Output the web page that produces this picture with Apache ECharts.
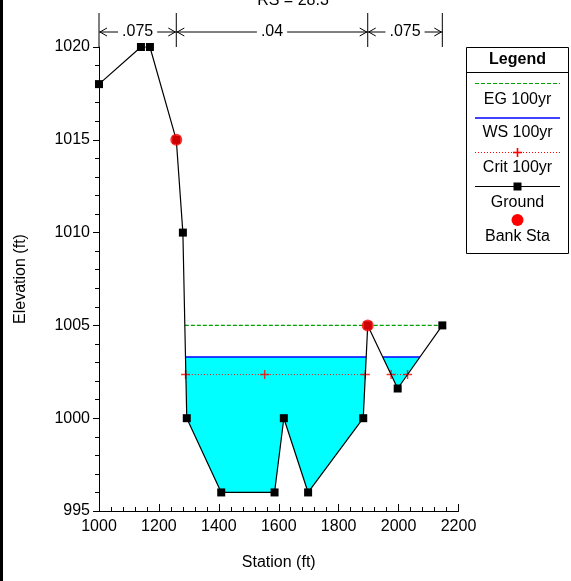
<!DOCTYPE html>
<html>
<head>
<meta charset="utf-8">
<script src="https://cdn.jsdelivr.net/npm/echarts@6/dist/echarts.min.js"></script>
<style>
    html, body { margin: 0; padding: 0; background: #fff; }
    #chart { width: 571px; height: 581px; }
</style>
</head>
<body>
<div id="chart"></div>
<script>
    // 断面地形 (station / elevation)
    var groundSta  = [1000, 1140, 1170, 1258, 1280, 1293, 1408, 1586, 1617, 1698, 1882, 1897, 1997, 2146];
    var groundElev = [1018, 1020, 1020, 1015, 1010, 1000, 996, 996, 1000, 996, 1000, 1005, 1001.6, 1005];
    // 主槽岸点
    var bankSta  = [1258, 1897];
    var bankElev = [1015, 1005];
    // 水面
    var egElev   = 1005.0;
    var wsElev   = 1003.3;
    var critElev = 1002.35;
    var critSta  = [1289, 1553, 1889, 1975, 2030];
    // 糙率分区
    var nSta = [1000, 1258, 1897, 2146];
    var nVal = ['.075', '.04', '.075'];

    var FONT = "'Liberation Sans', Arial, sans-serif";

    // 地形线在某高程以下的部分 -> 多边形
    function wetParts(level) {
        var parts = [], cur = null, n = groundSta.length;
        if (groundElev[0] < level) cur = [[groundSta[0], level], [groundSta[0], groundElev[0]]];
        for (var i = 0; i < n - 1; i++) {
            var x1 = groundSta[i], y1 = groundElev[i], x2 = groundSta[i + 1], y2 = groundElev[i + 1];
            if (y1 >= level && y2 < level) {
                cur = [[x1 + (level - y1) / (y2 - y1) * (x2 - x1), level]];
            }
            if (cur && y2 < level) cur.push([x2, y2]);
            if (y1 < level && y2 >= level) {
                cur.push([x1 + (level - y1) / (y2 - y1) * (x2 - x1), level]);
                parts.push(cur);
                cur = null;
            }
        }
        if (cur) { cur.push([groundSta[n - 1], level]); parts.push(cur); }
        return parts;
    }

    function levelLines(level, name, color, width, dash) {
        return wetParts(level).map(function (p) {
            return {
                name: name, type: 'line', symbol: 'none', z: 3, silent: true,
                color: color,
                lineStyle: { color: color, width: width, type: dash || 'solid' },
                data: [[p[0][0], level], [p[p.length - 1][0], level]]
            };
        });
    }

    var waterPolys = wetParts(wsElev);
    var plusPath = 'path://M0,4.2H10V5.8H0Z M4.2,0H5.8V10H4.2Z';

    var myChart = echarts.init(document.getElementById('chart'));

    var series = [];
    // 水体填充
    series.push({
        type: 'custom', z: 1, silent: true,
        data: waterPolys.map(function (p) { return p[0]; }),
        renderItem: function (params, api) {
            var poly = waterPolys[params.dataIndex];
            return {
                type: 'polygon',
                shape: { points: poly.map(function (p) { return api.coord(p); }) },
                style: { fill: '#00ffff' }
            };
        }
    });
    series = series.concat(levelLines(egElev, 'EG 100yr', '#00a000', 1.3, [4, 2]));
    series = series.concat(levelLines(wsElev, 'WS 100yr', '#0000ff', 1.5));
    series = series.concat(levelLines(critElev, 'Crit 100yr', '#ff0000', 1, [1, 2]));
    series.push({
        name: 'Crit 100yr', type: 'scatter', z: 4, silent: true,
        symbol: plusPath, symbolSize: 9,
        itemStyle: { color: '#ff0000' },
        data: critSta.map(function (s) { return [s, critElev]; })
    });
    // 地形
    series.push({
        name: 'Ground', type: 'line', z: 5, silent: true,
        symbol: 'rect', symbolSize: 8, showAllSymbol: true,
        lineStyle: { color: '#000', width: 1.2 },
        itemStyle: { color: '#000' },
        data: groundSta.map(function (s, i) { return [s, groundElev[i]]; })
    });
    series.push({
        name: 'Bank Sta', type: 'scatter', z: 6, silent: true,
        symbol: 'circle', symbolSize: 12,
        itemStyle: { color: '#ff0000' },
        data: bankSta.map(function (s, i) { return [s, bankElev[i]]; })
    });
    // 顶部糙率标注
    series.push({
        type: 'custom', z: 7, silent: true, clip: false,
        data: [[nSta[0], 1020]],
        renderItem: function (params, api) {
            var top = params.coordSys.y;
            var yl = top - 15;
            var children = [];
            var px = nSta.map(function (s) { return api.coord([s, 1020])[0]; });
            px.forEach(function (x) {
                children.push({ type: 'line', shape: { x1: x, y1: top - 34, x2: x, y2: top }, style: { stroke: '#000', lineWidth: 1 } });
            });
            for (var i = 0; i < nVal.length; i++) {
                var xa = px[i], xb = px[i + 1];
                children.push({ type: 'line', shape: { x1: xa, y1: yl, x2: xb, y2: yl }, style: { stroke: '#000', lineWidth: 1 } });
                children.push({ type: 'polyline', shape: { points: [[xa + 8, yl - 4], [xa + 1, yl], [xa + 8, yl + 4]] }, style: { stroke: '#000', lineWidth: 1, fill: null } });
                children.push({ type: 'polyline', shape: { points: [[xb - 8, yl - 4], [xb - 1, yl], [xb - 8, yl + 4]] }, style: { stroke: '#000', lineWidth: 1, fill: null } });
                children.push({
                    type: 'text', z2: 10,
                    style: {
                        x: (xa + xb) / 2, y: yl, text: nVal[i], align: 'center', verticalAlign: 'middle',
                        fill: '#000', font: '16px ' + FONT, backgroundColor: '#fff', padding: [0, 4]
                    }
                });
            }
            return { type: 'group', children: children };
        }
    });

    // 图例 (手绘方框)
    var lx = 466.5, lw = 102, lc = lx + lw / 2;
    var legendEls = [
        { type: 'rect', shape: { x: lx, y: 47.5, width: lw, height: 206 }, style: { fill: '#fff', stroke: '#000', lineWidth: 1 } },
        { type: 'text', style: { x: lc, y: 60, text: 'Legend', align: 'center', verticalAlign: 'middle', font: 'bold 16px ' + FONT, fill: '#000' } },
        { type: 'line', shape: { x1: lx, y1: 72.5, x2: lx + lw, y2: 72.5 }, style: { stroke: '#000', lineWidth: 1 } },
        { type: 'line', shape: { x1: 475, y1: 83.5, x2: 560, y2: 83.5 }, style: { stroke: '#00a000', lineWidth: 1, lineDash: [4, 2] } },
        { type: 'text', style: { x: lc, y: 100, text: 'EG 100yr', align: 'center', verticalAlign: 'middle', font: '16px ' + FONT, fill: '#000' } },
        { type: 'line', shape: { x1: 475, y1: 118, x2: 560, y2: 118 }, style: { stroke: '#0000ff', lineWidth: 1.5 } },
        { type: 'text', style: { x: lc, y: 133, text: 'WS 100yr', align: 'center', verticalAlign: 'middle', font: '16px ' + FONT, fill: '#000' } },
        { type: 'line', shape: { x1: 475, y1: 152.5, x2: 560, y2: 152.5 }, style: { stroke: '#ff0000', lineWidth: 1, lineDash: [1, 2] } },
        { type: 'rect', shape: { x: lc - 4.5, y: 151.7, width: 9, height: 1.6 }, style: { fill: '#ff0000' } },
        { type: 'rect', shape: { x: lc - 0.8, y: 148, width: 1.6, height: 9 }, style: { fill: '#ff0000' } },
        { type: 'text', style: { x: lc, y: 168, text: 'Crit 100yr', align: 'center', verticalAlign: 'middle', font: '16px ' + FONT, fill: '#000' } },
        { type: 'line', shape: { x1: 475, y1: 186.5, x2: 560, y2: 186.5 }, style: { stroke: '#000', lineWidth: 1.2 } },
        { type: 'rect', shape: { x: lc - 4, y: 182.5, width: 8, height: 8 }, style: { fill: '#000' } },
        { type: 'text', style: { x: lc, y: 203, text: 'Ground', align: 'center', verticalAlign: 'middle', font: '16px ' + FONT, fill: '#000' } },
        { type: 'circle', shape: { cx: lc, cy: 220, r: 6 }, style: { fill: '#ff0000' } },
        { type: 'text', style: { x: lc, y: 237, text: 'Bank Sta', align: 'center', verticalAlign: 'middle', font: '16px ' + FONT, fill: '#000' } }
    ];

    function plainNum(v) { return String(v); }

    var option = {
        backgroundColor: '#fff',
        animation: false,
        textStyle: { fontFamily: FONT },
        grid: { left: 99, right: 112.5, top: 47, bottom: 70 },
        xAxis: {
            type: 'value', min: 1000, max: 2200, interval: 200,
            name: 'Station (ft)', nameLocation: 'middle', nameGap: 44,
            nameTextStyle: { color: '#000', fontSize: 16, fontFamily: FONT },
            axisLine: { show: true, lineStyle: { color: '#000', width: 1 } },
            axisTick: { show: true, inside: true, length: 7, lineStyle: { color: '#000' } },
            minorTick: { show: true, splitNumber: 5, length: 4, lineStyle: { color: '#000' } },
            axisLabel: { color: '#000', fontSize: 16, margin: 8, fontFamily: FONT, formatter: plainNum },
            splitLine: { show: false }
        },
        yAxis: {
            type: 'value', min: 995, max: 1020, interval: 5,
            name: 'Elevation (ft)', nameLocation: 'middle', nameGap: 70,
            nameTextStyle: { color: '#000', fontSize: 16, fontFamily: FONT },
            axisLine: { show: true, lineStyle: { color: '#000', width: 1 } },
            axisTick: { show: true, length: 6, lineStyle: { color: '#000' } },
            minorTick: { show: true, splitNumber: 5, length: 4, lineStyle: { color: '#000' } },
            axisLabel: { color: '#000', fontSize: 16, margin: 9, fontFamily: FONT, formatter: plainNum },
            splitLine: { show: false }
        },
        graphic: [
            { type: 'rect', left: 0, top: 0, shape: { width: 3, height: 581 }, style: { fill: '#000' } },
            { type: 'text', style: { x: 293, y: 9, text: 'RS = 28.3', align: 'center', verticalAlign: 'bottom', font: '16px ' + FONT, fill: '#000' } },
            { type: 'group', children: legendEls }
        ],
        series: series
    };

    myChart.setOption(option);
</script>
</body>
</html>
